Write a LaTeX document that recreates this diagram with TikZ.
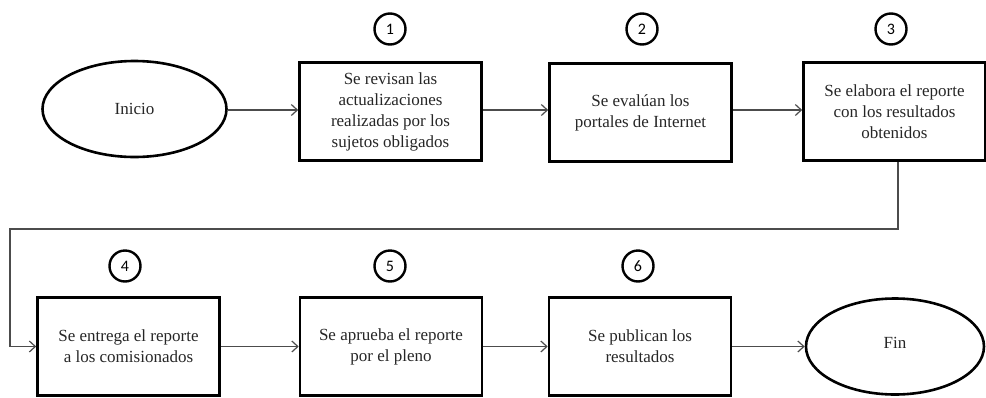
\documentclass[tikz,border=0pt]{standalone}
\usepackage{fontspec}
\setmainfont{Liberation Serif}
\newfontfamily\numfont{Carlito}
\usetikzlibrary{shapes.geometric,arrows.meta}
\begin{document}
\begin{tikzpicture}[x=1pt,y=-1pt,
  stepbox/.style={draw=black,line width=2.6pt,minimum width=182pt,minimum height=98pt,inner sep=0pt,align=center,font=\fontsize{17}{21}\selectfont,text=black!85},
  term/.style={draw=black,line width=2.6pt,ellipse,minimum width=184pt,minimum height=96pt,inner sep=0pt,font=\fontsize{17}{21}\selectfont,text=black!85},
  num/.style={draw=black,line width=2.4pt,circle,minimum size=31pt,inner sep=0pt,font=\numfont\fontsize{16}{16}\selectfont},
  conn/.style={draw=black!70,line width=1.3pt,-{Straight Barb[length=6pt,width=11pt,line width=1.2pt]}}]
\useasboundingbox (0,0) rectangle (986,397);
\node[term] (ini) at (134.5,109) {Inicio};
\node[stepbox] (b1) at (390.5,111.5) {Se revisan las\\actualizaciones\\realizadas por los\\sujetos obligados};
\node[stepbox] (b2) at (640.5,112.5) {Se evalúan los\\portales de Internet};
\node[stepbox] (b3) at (894.5,111.5) {Se elabora el reporte\\con los resultados\\obtenidos};
\node[stepbox] (b4) at (128.5,346.5) {Se entrega el reporte\\a los comisionados};
\node[stepbox] (b5) at (391,346.5) {Se aprueba el reporte\\por el pleno};
\node[stepbox] (b6) at (640,346.5) {Se publican los\\resultados};
\node[term,minimum width=178pt,text depth=8pt] (fin) at (895,346.5) {Fin};
\node[num] (n1) at (390,29) {1};
\node[num] (n2) at (642,29) {2};
\node[num] (n3) at (891,29) {3};
\node[num] (n4) at (125,266) {4};
\node[num] (n5) at (390,266) {5};
\node[num] (n6) at (638,266) {6};
\coordinate (turn) at (10,229);
\draw[conn] (ini.east |- 0,110) -- (b1.west |- 0,110);
\draw[conn] (b1.east |- 0,110) -- (b2.west |- 0,110);
\draw[conn] (b2.east |- 0,110) -- (b3.west |- 0,110);
\draw[conn] (b3.south -| 898,0) |- (turn) |- (b4.west);
\draw[conn] (b4) -- (b5);
\draw[conn] (b5) -- (b6);
\draw[conn] (b6) -- (fin);
\end{tikzpicture}
\end{document}
